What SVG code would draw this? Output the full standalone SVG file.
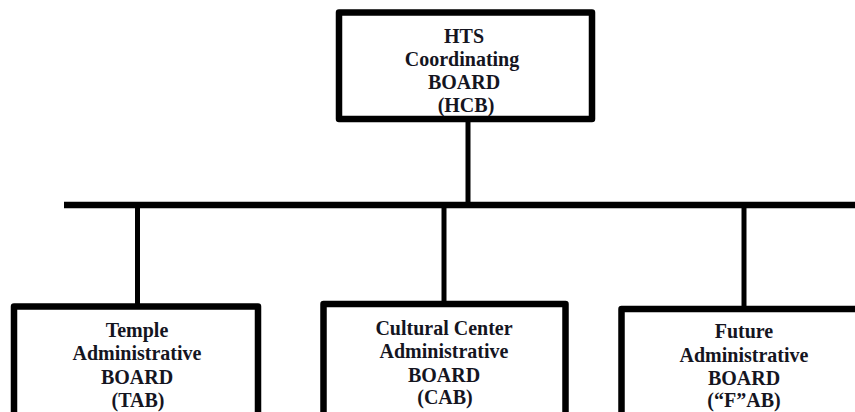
<svg xmlns="http://www.w3.org/2000/svg" width="855" height="412" viewBox="0 0 855 412">
<style>
.box{fill:#fff;stroke:#000;stroke-width:6.5;stroke-linejoin:round}
.t{font-family:"Liberation Serif","Times New Roman",serif;font-weight:bold;font-size:20px;fill:#15151f;text-anchor:middle}
.c{stroke:#000;fill:none}
</style>
<rect width="855" height="412" fill="#fff"/>
<g id="connectors">
<line class="c" x1="468" y1="120" x2="468" y2="205" stroke-width="5"/>
<line class="c" x1="64" y1="205" x2="855" y2="205" stroke-width="6.5"/>
<line class="c" x1="137.5" y1="205" x2="137.5" y2="305" stroke-width="5"/>
<line class="c" x1="444" y1="205" x2="444" y2="303" stroke-width="5"/>
<line class="c" x1="744" y1="205" x2="744" y2="308" stroke-width="5"/>
</g>
<g id="hcb">
<rect class="box" x="339" y="12.5" width="253" height="106.5"/>
<text class="t" x="464" y="43">HTS</text>
<text class="t" x="462" y="66">Coordinating</text>
<text class="t" x="464" y="89">BOARD</text>
<text class="t" x="466" y="112">(HCB)</text>
</g>
<g id="tab">
<rect class="box" x="14" y="306.5" width="244" height="120"/>
<text class="t" x="137" y="337">Temple</text>
<text class="t" x="137" y="360">Administrative</text>
<text class="t" x="137" y="383.5">BOARD</text>
<text class="t" x="138" y="407">(TAB)</text>
</g>
<g id="cab">
<rect class="box" x="323.5" y="304" width="242" height="120"/>
<text class="t" x="444" y="335">Cultural Center</text>
<text class="t" x="444" y="358">Administrative</text>
<text class="t" x="444" y="381.5">BOARD</text>
<text class="t" x="445" y="404">(CAB)</text>
</g>
<g id="fab">
<rect class="box" x="621.5" y="309" width="260" height="120"/>
<text class="t" x="744" y="338">Future</text>
<text class="t" x="744" y="361.5">Administrative</text>
<text class="t" x="744" y="385">BOARD</text>
<text class="t" x="744" y="407">(“F”AB)</text>
</g>
</svg>
